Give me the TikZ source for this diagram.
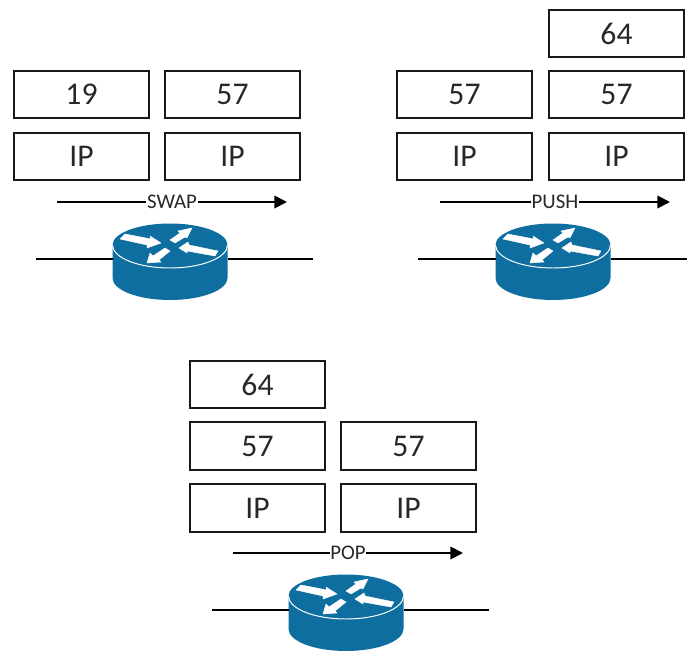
\documentclass[tikz,border=0pt]{standalone}
\usepackage{fontspec}
\setmainfont{Carlito}
\usetikzlibrary{arrows.meta}
\definecolor{routerblue}{RGB}{15,110,160}
\definecolor{labelgrey}{RGB}{40,40,40}
\tikzset{
	labelbox/.style={draw=black!90,line width=1.3pt,minimum width=3.39cm,minimum height=1.18cm,inner sep=0pt,text=labelgrey,font=\fontsize{22.5}{22.5}\selectfont},
	flowarrow/.style={line width=1.3pt,-{Triangle[length=9pt,width=9pt]}},
	flowlabel/.style={fill=white,inner sep=.5pt,text=labelgrey,font=\fontsize{14.8}{14.8}\selectfont},
	wire/.style={line width=1.3pt},
	routericon/.pic={
		\fill[routerblue] (-57.5,0) -- (-57.5,33) arc[start angle=180,end angle=0,x radius=57.5,y radius=22] -- (57.5,0) -- cycle;
		\fill[routerblue] (0,0) ellipse[x radius=57.5,y radius=21.5];
		\draw[white,line width=.7pt] (-57.5,0) arc[start angle=180,end angle=0,x radius=57.5,y radius=23];
		\filldraw[white,line width=.3pt] (-50,-6) -- (-45,-11) -- (-19,-6) -- (-20,-9) -- (-9,-2) -- (-23,3) -- (-23,0) -- cycle;
		\filldraw[white,line width=.3pt] (22,-17) -- (8,-14) -- (10,-12) -- (0,-5) -- (5,-2) -- (15,-8) -- (17,-7) -- cycle;
		\filldraw[white,line width=.3pt] (-23,18) -- (-20,8) -- (-17,11) -- (-5,3) -- (0,6) -- (-11,15) -- (-9,17) -- cycle;
		\filldraw[white,line width=.3pt] (9,3) -- (18,-3) -- (19,0) -- (48,6) -- (45,11) -- (17,6) -- (17,8) -- cycle;
		\coordinate (-left) at (-57.5,14);
		\coordinate (-right) at (57.5,14);
	}
}
\begin{document}
\begin{tikzpicture}[x=.025cm,y=-.025cm]
	\useasboundingbox (0,0) rectangle (687,651);
	% swap
	\node[labelbox] (swapina) at (81.5,94.5) {19};
	\node[labelbox] (swapouta) at (232.5,94.5) {57};
	\node[labelbox] (swapinb) at (81.5,156.5) {IP};
	\node[labelbox] (swapoutb) at (232.5,156.5) {IP};
	\coordinate (swapfrom) at (57,202);
	\coordinate (swapto) at (287,202);
	\draw[flowarrow] (swapfrom) -- (swapto) node[midway,flowlabel] (swaplabel) {SWAP};
	\coordinate (swapwirea) at (36,259);
	\coordinate (swapwireb) at (313,259);
	\pic (swaprouter) at (170,245) {routericon};
	\draw[wire] (swapwirea) -- (swaprouter-left);
	\draw[wire] (swaprouter-right) -- (swapwireb);
	% push
	\node[labelbox] (pushtop) at (616.5,33.5) {64};
	\node[labelbox] (pushina) at (464.5,94.5) {57};
	\node[labelbox] (pushouta) at (616.5,94.5) {57};
	\node[labelbox] (pushinb) at (464.5,156.5) {IP};
	\node[labelbox] (pushoutb) at (616.5,156.5) {IP};
	\coordinate (pushfrom) at (440,202);
	\coordinate (pushto) at (670,202);
	\draw[flowarrow] (pushfrom) -- (pushto) node[midway,flowlabel] (pushlabel) {PUSH};
	\coordinate (pushwirea) at (418,259);
	\coordinate (pushwireb) at (687,259);
	\pic (pushrouter) at (553,245) {routericon};
	\draw[wire] (pushwirea) -- (pushrouter-left);
	\draw[wire] (pushrouter-right) -- (pushwireb);
	% pop
	\node[labelbox] (poptop) at (257.5,384.5) {64};
	\node[labelbox] (popina) at (257.5,446) {57};
	\node[labelbox] (popouta) at (408.5,446) {57};
	\node[labelbox] (popinb) at (257.5,508) {IP};
	\node[labelbox] (popoutb) at (408.5,508) {IP};
	\coordinate (popfrom) at (233,553);
	\coordinate (popto) at (463,553);
	\draw[flowarrow] (popfrom) -- (popto) node[midway,flowlabel] (poplabel) {POP};
	\coordinate (popwirea) at (212,610);
	\coordinate (popwireb) at (489,610);
	\pic (poprouter) at (346,596) {routericon};
	\draw[wire] (popwirea) -- (poprouter-left);
	\draw[wire] (poprouter-right) -- (popwireb);
\end{tikzpicture}
\end{document}
